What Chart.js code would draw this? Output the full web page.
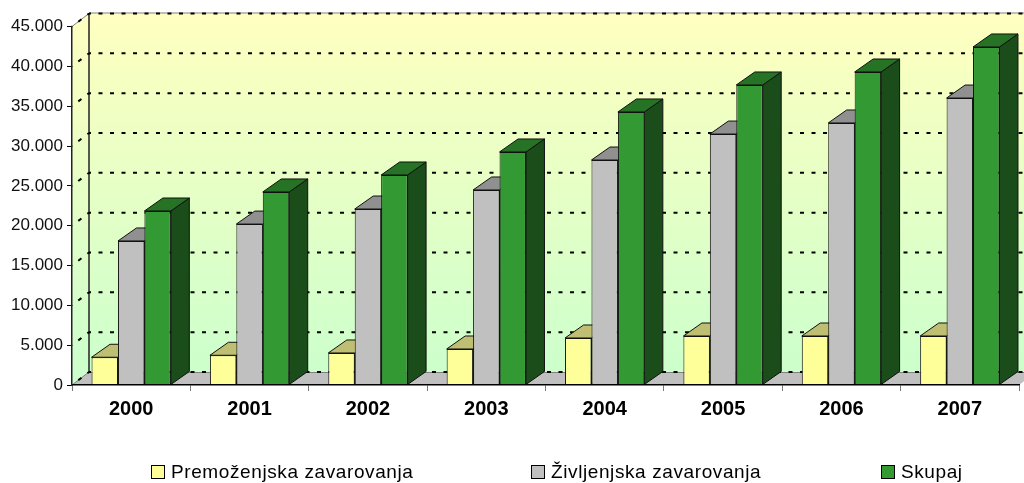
<!DOCTYPE html>
<html>
<head>
<meta charset="utf-8">
<title>Zavarovanja</title>
<script src="https://cdn.jsdelivr.net/npm/chart.js@4"></script>
<style>
	html, body { margin: 0; padding: 0; background: #fff; }
	canvas { display: block; }
</style>
</head>
<body>
<canvas id="chart" width="1024" height="483"></canvas>
<script>
(function() {
	'use strict';

	var years = ['2000', '2001', '2002', '2003', '2004', '2005', '2006', '2007'];
	var premozenjska = [3480, 3730, 4020, 4520, 5900, 6150, 6150, 6150];
	var zivljenjska = [18080, 20200, 22090, 24480, 28240, 31500, 32890, 36020];
	var skupaj = [21840, 24230, 26360, 29250, 34270, 37660, 39290, 42430];

	var FONT = '"Liberation Sans", Arial, sans-serif';
	var WALL_DX = 17, WALL_DY = 13;
	var BAR_DX = 18.5, BAR_DY = 13;
	var legendX = [151, 531, 881];

	function line(ctx, x1, y1, x2, y2) {
		ctx.beginPath();
		ctx.moveTo(x1, y1);
		ctx.lineTo(x2, y2);
		ctx.stroke();
	}

	// walls, floor and dashed gridlines of the fake 3D box, placed from the scales
	var box3d = {
		id: 'box3d',
		beforeDraw: function(chart) {
			var ctx = chart.ctx;
			var a = chart.chartArea;
			var y = chart.scales.y;
			var left = a.left, right = a.right, top = a.top, bottom = a.bottom;

			var grad = ctx.createLinearGradient(0, top - WALL_DY, 0, bottom - WALL_DY);
			grad.addColorStop(0, '#FFFFC0');
			grad.addColorStop(1, '#CCFFCC');

			ctx.save();
			ctx.fillStyle = grad;
			ctx.fillRect(left + WALL_DX, top - WALL_DY, right - left, bottom - top);
			ctx.beginPath();
			ctx.moveTo(left, top);
			ctx.lineTo(left + WALL_DX, top - WALL_DY);
			ctx.lineTo(left + WALL_DX, bottom - WALL_DY);
			ctx.lineTo(left, bottom);
			ctx.closePath();
			ctx.fill();

			// floor
			ctx.fillStyle = '#C0C0C0';
			ctx.beginPath();
			ctx.moveTo(left, bottom);
			ctx.lineTo(left + WALL_DX, bottom - WALL_DY);
			ctx.lineTo(right + WALL_DX, bottom - WALL_DY);
			ctx.lineTo(right, bottom);
			ctx.closePath();
			ctx.fill();

			// top edge and back corner
			ctx.strokeStyle = '#808080';
			ctx.lineWidth = 1;
			line(ctx, left + WALL_DX, top - WALL_DY - 0.5, right + WALL_DX, top - WALL_DY - 0.5);
			line(ctx, left, top, left + WALL_DX, top - WALL_DY);
			line(ctx, left, bottom, left + WALL_DX, bottom - WALL_DY);
			line(ctx, left + WALL_DX, bottom - WALL_DY + 0.5, right + WALL_DX, bottom - WALL_DY + 0.5);
			ctx.strokeStyle = '#222';
			ctx.lineWidth = 1.5;
			line(ctx, left + WALL_DX, top - WALL_DY, left + WALL_DX, bottom - WALL_DY);

			// gridlines on both walls
			ctx.strokeStyle = '#000';
			ctx.lineWidth = 2;
			ctx.setLineDash([4, 7.5]);
			ctx.lineDashOffset = 2;
			y.ticks.forEach(function(t) {
				var py = y.getPixelForValue(t.value);
				line(ctx, left + WALL_DX, py - WALL_DY, right + WALL_DX, py - WALL_DY);
				line(ctx, left + WALL_DX, py - WALL_DY, left, py);
			});
			ctx.restore();
		},
		// side and top faces first, yellow to green, then the library draws the fronts over them
		beforeDatasetsDraw: function(chart) {
			var ctx = chart.ctx;
			ctx.save();
			ctx.strokeStyle = '#111';
			ctx.lineWidth = 1;
			ctx.lineJoin = 'round';
			chart.data.datasets.forEach(function(ds, i) {
				chart.getDatasetMeta(i).data.forEach(function(bar) {
					var l = bar.x - bar.width / 2, r = bar.x + bar.width / 2;
					ctx.fillStyle = ds.sideColor;
					ctx.beginPath();
					ctx.moveTo(r, bar.y);
					ctx.lineTo(r + BAR_DX, bar.y - BAR_DY);
					ctx.lineTo(r + BAR_DX, bar.base - BAR_DY);
					ctx.lineTo(r, bar.base);
					ctx.closePath();
					ctx.fill();
					ctx.stroke();
					ctx.fillStyle = ds.topColor;
					ctx.beginPath();
					ctx.moveTo(l, bar.y);
					ctx.lineTo(l + BAR_DX, bar.y - BAR_DY);
					ctx.lineTo(r + BAR_DX, bar.y - BAR_DY);
					ctx.lineTo(r, bar.y);
					ctx.closePath();
					ctx.fill();
					ctx.stroke();
				});
			});
			ctx.restore();
		},
		afterDraw: function(chart) {
			var ctx = chart.ctx;
			ctx.save();
			ctx.font = '19px ' + FONT;
			ctx.letterSpacing = '0.6px';
			ctx.textBaseline = 'middle';
			chart.data.datasets.forEach(function(ds, i) {
				ctx.fillStyle = ds.backgroundColor;
				ctx.strokeStyle = '#000';
				ctx.lineWidth = 1;
				ctx.fillRect(legendX[i], 465.5, 13, 13);
				ctx.strokeRect(legendX[i] + 0.5, 465.5, 13, 13);
				ctx.fillStyle = '#000';
				ctx.fillText(ds.label, legendX[i] + 20, 473);
			});
			ctx.restore();
		}
	};

	new Chart(document.getElementById('chart').getContext('2d'), {
		type: 'bar',
		plugins: [box3d],
		data: {
			labels: years,
			datasets: [
				{ label: 'Premoženjska zavarovanja', data: premozenjska, backgroundColor: '#FFFF99', topColor: '#BFBF73', sideColor: '#80804D' },
				{ label: 'Življenjska zavarovanja', data: zivljenjska, backgroundColor: '#C0C0C0', topColor: '#909090', sideColor: '#606060' },
				{ label: 'Skupaj', data: skupaj, backgroundColor: '#339933', topColor: '#267326', sideColor: '#1A4D1A' }
			]
		},
		options: {
			responsive: false,
			animation: false,
			layout: { padding: { top: 26.5, right: 5, left: 0, bottom: 0 } },
			datasets: {
				bar: {
					categoryPercentage: 0.67,
					barPercentage: 1,
					borderColor: '#111',
					borderWidth: 1
				}
			},
			plugins: {
				legend: { display: false },
				tooltip: { enabled: false }
			},
			scales: {
				x: {
					afterFit: function(scale) { scale.height = 98; },
					grid: { drawOnChartArea: false, tickLength: 6, color: '#777', offset: true },
					border: { color: '#000', width: 1.5, z: 1 },
					ticks: {
						padding: 6,
						color: '#000',
						font: { family: FONT, size: 20, weight: 'bold' }
					}
				},
				y: {
					min: 0,
					max: 45000,
					afterFit: function(scale) { scale.width = 72; },
					grid: { drawOnChartArea: false, tickLength: 5, color: '#000' },
					border: { color: '#222', width: 1.5, z: 1 },
					ticks: {
						stepSize: 5000,
						padding: 4,
						color: '#111',
						font: { family: FONT, size: 17 },
						callback: function(v) {
							return String(v).replace(/\B(?=(\d{3})+$)/g, '.');
						}
					}
				}
			}
		}
	});
})();
</script>
</body>
</html>
